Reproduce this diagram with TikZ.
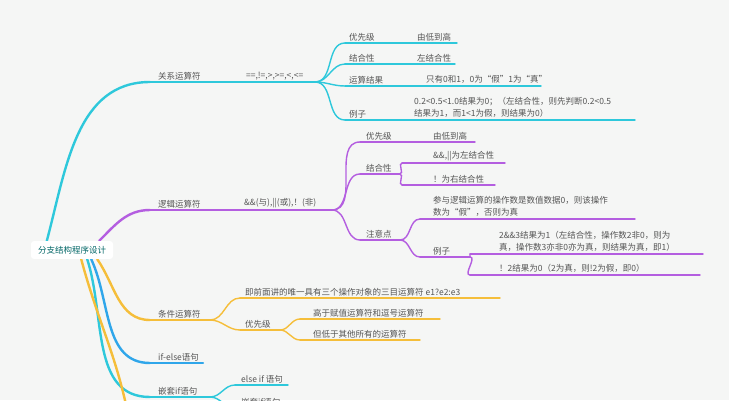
\documentclass[tikz,border=0pt]{standalone}
\usepackage{fontspec}
\usetikzlibrary{positioning,backgrounds,calc}
\newfontfamily\cjk{Noto Sans CJK SC}
\definecolor{bgc}{HTML}{F5F6F5}
\definecolor{cyanc}{HTML}{2EC8DB}
\definecolor{purc}{HTML}{B45EE0}
\definecolor{yelc}{HTML}{F5BE3A}
\definecolor{bluc}{HTML}{2FA6EA}
\definecolor{txtc}{HTML}{555555}
\tikzset{
  lbl/.style={anchor=south west, inner sep=1pt, text=txtc, align=left,
    font=\cjk\fontsize{8.5}{12.5}\selectfont},
  trunk/.style={line width=2.4pt, line cap=round},
  twig/.style={line width=1.4pt, line cap=round}
}
% leaf: name, style, x start, x end, y, text x, text
\newcommand{\leaf}[7]{%
  \coordinate (#1-s) at (#3,#5);
  \coordinate (#1-e) at (#4,#5);
  \draw[#2] (#1-s) -- (#1-e);
  \node[lbl] (#1) at (#6,#5-1) {#7};
}
\begin{document}
\begin{tikzpicture}[x=1pt,y=-1pt]
        \useasboundingbox (0,0) rectangle (729,400);
        \begin{pgfonlayer}{background}
          \fill[bgc] (0,0) rectangle (729,400);
        \end{pgfonlayer}
        %root
        \node[fill=white, rounded corners=3pt, inner xsep=7pt, inner ysep=5pt,
          text=teal!80!black, font=\cjk\fontsize{8.5}{10}\selectfont] (root) at (72,250) {分支结构程序设计};
        %relational
        \leaf{rel}{cyanc,trunk}{150}{205}{82}{157}{关系运算符}
        \leaf{relop}{cyanc,trunk}{205}{315}{82}{245}{==,!=,>,>=,<,<=}
        \leaf{r1}{cyanc,twig}{345}{400}{43}{348}{优先级}
        \leaf{r1b}{cyanc,twig}{400}{457}{43}{416}{由低到高}
        \leaf{r2}{cyanc,twig}{345}{400}{64}{348}{结合性}
        \leaf{r2b}{cyanc,twig}{400}{455}{64}{416}{左结合性}
        \leaf{r3}{cyanc,twig}{345}{420}{86}{348}{运算结果}
        \leaf{r3b}{cyanc,twig}{420}{541}{86}{425}{只有0和1，0为“假”1为“真”}
        \leaf{r4}{cyanc,twig}{345}{410}{120}{348}{例子}
        \leaf{r4b}{cyanc,twig}{410}{635}{120}{413}{0.2<0.5<1.0结果为0；（左结合性，则先判断0.2<0.5\\结果为1，而1<1为假，则结果为0）}
        \foreach \c in {r1,r2,r3,r4}
          \draw[cyanc,twig] (relop-e) to[out=0,in=180] (\c-s);
        %logical
        \leaf{log}{purc,trunk}{150}{210}{210}{157}{逻辑运算符}
        \leaf{logop}{purc,trunk}{210}{332}{210}{243}{\&\&(与),||(或),！(非)}
        \leaf{lp}{purc,twig}{360}{420}{142}{365}{优先级}
        \leaf{lpb}{purc,twig}{420}{475}{142}{432}{由低到高}
        \leaf{la}{purc,twig}{360}{400}{174}{365}{结合性}
        \leaf{la1}{purc,twig}{402}{505}{163}{432}{\&\&,||为左结合性}
        \leaf{la2}{purc,twig}{402}{495}{185}{432}{！为右结合性}
        \leaf{ln}{purc,twig}{360}{400}{240}{365}{注意点}
        \leaf{ln1}{purc,twig}{420}{635}{219}{432}{参与逻辑运算的操作数是数值数据0，则该操作\\数为“假”，否则为真}
        \leaf{ln2}{purc,twig}{420}{470}{257}{432}{例子}
        \leaf{ln21}{purc,twig}{470}{703}{254}{498}{2\&\&3结果为1（左结合性，操作数2非0，则为\\真，操作数3亦非0亦为真，则结果为真，即1）}
        \leaf{ln22}{purc,twig}{470}{700}{275}{498}{！2结果为0（2为真，则!2为假，即0）}
        \foreach \c in {lp,la,ln}
          \draw[purc,twig] (logop-e) to[out=0,in=180] (\c-s);
        \foreach \c in {la1,la2}
          \draw[purc,twig] (la-e) to[out=0,in=180] (\c-s);
        \foreach \c in {ln1,ln2}
          \draw[purc,twig] (ln-e) to[out=0,in=180] (\c-s);
        \foreach \c in {ln21,ln22}
          \draw[purc,twig] (ln2-e) to[out=0,in=180] (\c-s);
        %conditional
        \leaf{cnd}{yelc,trunk}{150}{210}{320}{157}{条件运算符}
        \leaf{c1}{yelc,twig}{240}{500}{298}{244}{即前面讲的唯一具有三个操作对象的三目运算符 e1?e2:e3}
        \leaf{c2}{yelc,twig}{240}{280}{330}{244}{优先级}
        \leaf{c21}{yelc,twig}{300}{440}{319}{312}{高于赋值运算符和逗号运算符}
        \leaf{c22}{yelc,twig}{300}{420}{340}{312}{但低于其他所有的运算符}
        \foreach \c in {c1,c2}
          \draw[yelc,twig] (cnd-e) to[out=0,in=180] (\c-s);
        \foreach \c in {c21,c22}
          \draw[yelc,twig] (c2-e) to[out=0,in=180] (\c-s);
        %if-else and nested
        \leaf{ie}{bluc,trunk}{150}{203}{363}{157}{if-else语句}
        \leaf{ni}{cyanc,trunk}{150}{210}{397}{157}{嵌套if语句}
        \leaf{ni1}{cyanc,twig}{235}{288}{385}{240}{else if 语句}
        \leaf{ni2}{cyanc,twig}{235}{290}{408}{240}{嵌套if语句}
        \foreach \c in {ni1,ni2}
          \draw[cyanc,twig] (ni-e) to[out=0,in=180] (\c-s);
        %trunks from root
        \coordinate (more) at (130,425);
        \begin{pgfonlayer}{background}
          \draw[cyanc,trunk] ([xshift=16pt]root.north west) to[out=75,in=180] (rel-s);
          \draw[purc,trunk] ([xshift=-14pt]root.north east) to[out=45,in=180] (log-s);
          \draw[yelc,trunk] ([xshift=-16pt]root.south east) to[out=-55,in=180] (cnd-s);
          \draw[bluc,trunk] ([xshift=-22pt]root.south east) to[out=-65,in=180] (ie-s);
          \draw[cyanc,trunk] ([xshift=-26pt]root.south east) to[out=-72,in=180] (ni-s);
          \draw[yelc,trunk] ([xshift=-32pt]root.south east) to[out=-75,in=100] (more);
        \end{pgfonlayer}
      \end{tikzpicture}
\end{document}
